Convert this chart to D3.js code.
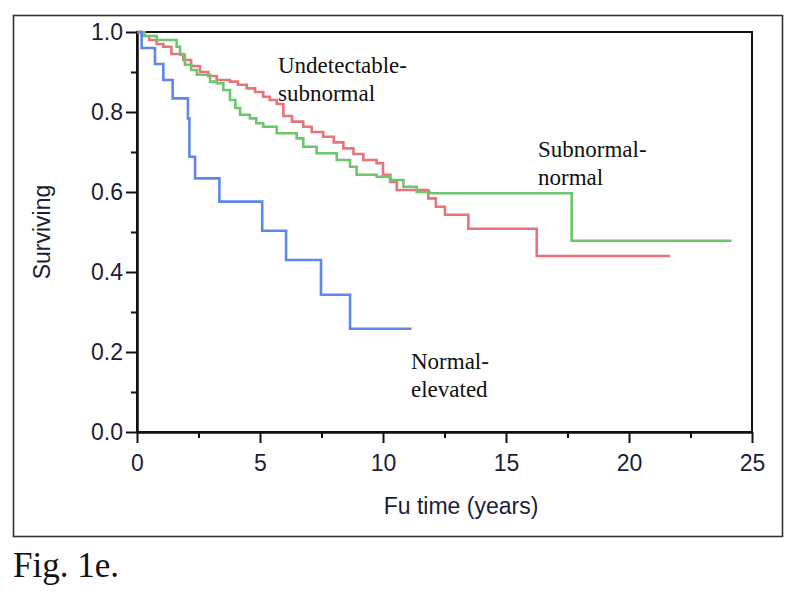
<!DOCTYPE html>
<html lang="en">
<head>
  <meta charset="UTF-8">
  <title>Fig. 1e - Surviving vs Fu time</title>
  <script src="https://d3js.org/d3.v7.min.js"></script>
  <style>
    body {
      margin: 0;
      background: #ffffff;
    }

    svg {
      display: block;
    }

    .axis text {
      font-family: "Liberation Sans", Arial, sans-serif;
      font-size: 23px;
      fill: #1d1d35;
    }

    .axis line,
    .axis path {
      stroke: #111111;
      stroke-width: 2px;
    }

    .curve {
      fill: none;
      stroke-width: 2.6px;
      stroke-linejoin: miter;
    }

    .label {
      font-family: "Liberation Serif", "Times New Roman", serif;
      font-size: 23px;
      fill: #111111;
    }
  </style>
</head>
<body>
<div id="chart"></div>
<script>
  // ticks
  const xTicks = [0, 5, 10, 15, 20, 25];
  const xMinorTicks = [2.5, 7.5, 12.5, 17.5, 22.5];
  const yTicks = [0, 0.2, 0.4, 0.6, 0.8, 1.0];
  const yMinorTicks = [0.1, 0.3, 0.5, 0.7, 0.9];

  // Undetectable-subnormal (red), step times and survival after each step
  const undetTime = [0, 0.19, 0.5, 0.8, 1.07, 1.4, 1.88, 2.2, 2.56, 2.9, 3.24, 3.78, 4.1, 4.46, 4.8, 5.13, 5.4, 5.68, 5.95, 6.3, 6.76, 7.1, 7.57, 8.0, 8.39, 8.8, 9.2, 9.74, 10.0, 10.3, 10.56, 11.84, 12.15, 12.52, 13.47, 16.25, 21.67];
  const undetSurv = [1, 0.99, 0.98, 0.97, 0.963, 0.945, 0.93, 0.915, 0.90, 0.89, 0.88, 0.876, 0.868, 0.859, 0.85, 0.838, 0.83, 0.82, 0.79, 0.776, 0.763, 0.75, 0.738, 0.724, 0.709, 0.695, 0.68, 0.672, 0.643, 0.625, 0.605, 0.584, 0.563, 0.543, 0.508, 0.44, 0.44];

  // Subnormal-normal (green)
  const subnTime = [0, 0.3, 0.8, 1.61, 1.75, 1.95, 2.2, 2.43, 2.97, 3.24, 3.51, 3.78, 4.0, 4.19, 4.59, 4.85, 5.13, 5.68, 6.49, 6.76, 7.3, 8.12, 8.66, 8.93, 9.74, 10.28, 10.83, 11.37, 11.9, 17.67, 24.17];
  const subnSurv = [1, 0.99, 0.98, 0.963, 0.943, 0.918, 0.905, 0.893, 0.876, 0.872, 0.855, 0.83, 0.81, 0.793, 0.784, 0.772, 0.763, 0.747, 0.734, 0.713, 0.697, 0.68, 0.663, 0.643, 0.638, 0.63, 0.613, 0.60, 0.597, 0.478, 0.478];

  // Normal-elevated (blue)
  const normTime = [0, 0.19, 0.73, 1.07, 1.45, 2.07, 2.13, 2.36, 3.35, 5.09, 6.06, 7.48, 8.66, 11.16];
  const normSurv = [1, 0.96, 0.92, 0.88, 0.834, 0.784, 0.688, 0.634, 0.576, 0.503, 0.43, 0.343, 0.258, 0.258];

  const series = [
    { name: "Undetectable-subnormal", time: undetTime, surv: undetSurv, color: "#e8737b" },
    { name: "Subnormal-normal", time: subnTime, surv: subnSurv, color: "#6cc66c" },
    { name: "Normal-elevated", time: normTime, surv: normSurv, color: "#5d88e4" }
  ];

  const width = 800,
        height = 596;

  const svg = d3.select("#chart")
    .append("svg")
    .attr("width", width)
    .attr("height", height);

  // outer frame
  svg.append("rect")
    .attr("x", 13.5)
    .attr("y", 15.5)
    .attr("width", 769)
    .attr("height", 521)
    .attr("fill", "none")
    .attr("stroke", "#333333")
    .attr("stroke-width", 1.6);

  const x = d3.scaleLinear().domain([0, 25]).range([137, 752]);
  const y = d3.scaleLinear().domain([0, 1]).range([432, 32]);

  // plot box (top and right edges)
  svg.append("rect")
    .attr("x", x(0))
    .attr("y", y(1))
    .attr("width", x(25) - x(0))
    .attr("height", y(0) - y(1))
    .attr("fill", "none")
    .attr("stroke", "#111111")
    .attr("stroke-width", 2);

  // y axis
  svg.append("g")
    .attr("class", "axis")
    .attr("transform", `translate(${x(0)},0)`)
    .call(d3.axisLeft(y).tickValues(yTicks).tickSize(11).tickSizeOuter(0).tickPadding(3).tickFormat(d3.format(".1f")));

  svg.append("g")
    .attr("class", "axis")
    .attr("transform", `translate(${x(0)},0)`)
    .call(d3.axisLeft(y).tickValues(yMinorTicks).tickSize(6).tickSizeOuter(0).tickFormat(""));

  // x axis
  const xAxis = svg.append("g")
    .attr("class", "axis")
    .attr("transform", `translate(0,${y(0)})`)
    .call(d3.axisBottom(x).tickValues(xTicks).tickSize(11).tickSizeOuter(0).tickPadding(12).tickFormat(d3.format("d")));

  svg.append("g")
    .attr("class", "axis")
    .attr("transform", `translate(0,${y(0)})`)
    .call(d3.axisBottom(x).tickValues(xMinorTicks).tickSize(6).tickSizeOuter(0).tickFormat(""));

  // axis titles
  svg.append("text")
    .attr("class", "axis")
    .attr("x", 461)
    .attr("y", 514)
    .attr("text-anchor", "middle")
    .style("font-family", "'Liberation Sans', Arial, sans-serif")
    .style("font-size", "23px")
    .style("fill", "#1d1d35")
    .text("Fu time (years)");

  svg.append("text")
    .attr("transform", "translate(50,232) rotate(-90)")
    .attr("text-anchor", "middle")
    .style("font-family", "'Liberation Sans', Arial, sans-serif")
    .style("font-size", "23px")
    .style("fill", "#1d1d35")
    .text("Surviving");

  // survival curves
  const line = d3.line()
    .curve(d3.curveStepAfter)
    .x(d => x(d[0]))
    .y(d => y(d[1]));

  svg.append("g")
    .selectAll("path")
    .data(series)
    .enter().append("path")
    .attr("class", "curve")
    .attr("stroke", d => d.color)
    .attr("d", d => line(d3.zip(d.time, d.surv)));

  // curve labels
  const labels = [
    { lines: ["Undetectable-", "subnormal"], x: 278, y: 73 },
    { lines: ["Subnormal-", "normal"], x: 538, y: 157 },
    { lines: ["Normal-", "elevated"], x: 411, y: 369 }
  ];

  labels.forEach(l => {
    const t = svg.append("text")
      .attr("class", "label")
      .attr("x", l.x)
      .attr("y", l.y);
    l.lines.forEach((s, i) => {
      t.append("tspan")
        .attr("x", l.x)
        .attr("dy", i === 0 ? 0 : 28)
        .text(s);
    });
  });

  // caption
  svg.append("text")
    .attr("x", 13)
    .attr("y", 577)
    .style("font-family", "'Liberation Serif', 'Times New Roman', serif")
    .style("font-size", "35px")
    .style("fill", "#111111")
    .text("Fig. 1e.");
</script>
</body>
</html>
